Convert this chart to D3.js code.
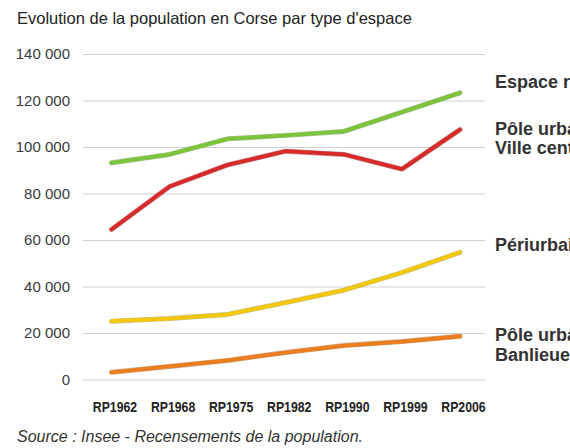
<!DOCTYPE html>
<html><head><meta charset="utf-8">
<script src="https://cdn.jsdelivr.net/npm/d3@7"></script>
<style>body{margin:0;background:#fff;}svg{display:block;}</style>
</head><body>
<svg id="c" width="570" height="448"></svg>
<script>
const categories = ["RP1962","RP1968","RP1975","RP1982","RP1990","RP1999","RP2006"];
const rural = [93200, 96800, 103500, 105000, 106700, 115000, 123300];
const villeCentre = [64500, 83000, 92300, 98200, 96800, 90500, 107500];
const periurbain = [25100, 26200, 28000, 33100, 38400, 46000, 54700];
const banlieue = [3100, 5600, 8200, 11600, 14600, 16300, 18600];
const yTicks = [0, 20000, 40000, 60000, 80000, 100000, 120000, 140000];
const seriesNames = [["Espace rural"],["Pôle urbain :","Ville centre"],["Périurbain"],["Pôle urbain :","Banlieue"]];
const seriesColors = ["#7cc43a","#d92a2a","#f3c80a","#ec7d1c"];

const series = [rural, villeCentre, periurbain, banlieue];
const svg = d3.select("#c");
const x = d3.scalePoint().domain(categories).range([111.5, 460]);
const y = d3.scaleLinear().domain([0, 140000]).range([379.5, 54]);
const fmt = v => d3.format(",")(v).replace(/,/g, " ");
const sans = "Liberation Sans, Arial, Helvetica, sans-serif";

svg.append("text").attr("x", 17).attr("y", 24).attr("font-family", sans)
  .attr("font-size", 16.5).attr("fill", "#222").text("Evolution de la population en Corse par type d'espace");

const yAxis = svg.append("g").attr("transform", "translate(83,0)")
  .call(d3.axisLeft(y).tickValues(yTicks).tickFormat(fmt).tickSize(-402).tickPadding(13));
yAxis.select(".domain").remove();
yAxis.selectAll("line").attr("stroke", "#d0d0d0").attr("stroke-width", 1.2);
yAxis.selectAll("text").attr("font-family", sans).attr("font-size", 15).attr("fill", "#3a3a3a");

const xAxis = svg.append("g").attr("transform", "translate(0,407)")
  .call(d3.axisBottom(x).tickSize(0).tickPadding(0));
xAxis.select(".domain").remove();
xAxis.selectAll("text").attr("font-family", sans)
  .attr("font-weight", "bold").attr("font-size", 15).attr("fill", "#222").attr("dy", "0.35em")
  .attr("transform", "translate(3,0) scale(0.82,1)");

const line = d3.line().x((d, i) => x(categories[i])).y(d => y(d));
series.forEach((s, k) => {
  svg.append("path").datum(s).attr("d", line).attr("fill", "none")
    .attr("stroke", d3.color(seriesColors[k]).darker(1.2)).attr("stroke-width", 5).attr("stroke-opacity", 0.5)
    .attr("stroke-linejoin", "round").attr("stroke-linecap", "round");
  svg.append("path").datum(s).attr("d", line).attr("fill", "none")
    .attr("stroke", seriesColors[k]).attr("stroke-width", 3.8)
    .attr("stroke-linejoin", "round").attr("stroke-linecap", "round");
});

const labelY = [[82], [129, 148], [245], [335, 355]];
seriesNames.forEach((lines, k) => {
  lines.forEach((t, j) => {
    svg.append("text").attr("x", 495).attr("y", labelY[k][j]).attr("dy", "0.35em")
      .attr("font-family", sans).attr("font-weight", "bold")
      .attr("font-size", 18).attr("fill", "#333").text(t);
  });
});

svg.append("text").attr("x", 17).attr("y", 442).attr("font-family", sans)
  .attr("font-style", "italic").attr("font-size", 16).attr("fill", "#333")
  .text("Source : Insee - Recensements de la population.");
</script>
</body></html>
